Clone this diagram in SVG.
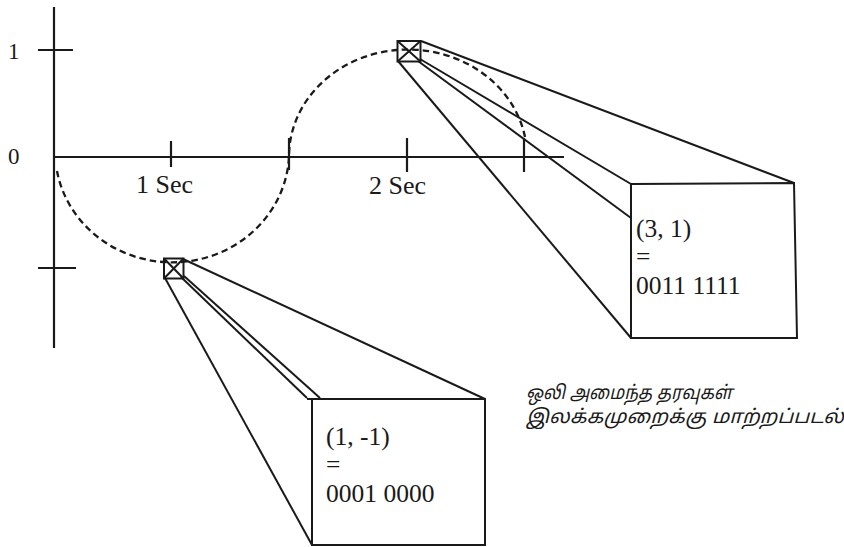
<svg xmlns="http://www.w3.org/2000/svg" width="844" height="547" viewBox="0 0 844 547">
  <style>
    .ln { stroke: #1a1a1a; stroke-width: 2; fill: none; stroke-linecap: butt; }
    .ax { stroke: #1a1a1a; stroke-width: 2.2; fill: none; }
    .wave { stroke: #1a1a1a; stroke-width: 2.3; fill: none; stroke-dasharray: 6.5 4; }
    .lbl { font-family: "Liberation Serif", "Times New Roman", serif; font-size: 26px; fill: #1a1a1a; }
    .val { font-family: "Liberation Serif", "Times New Roman", serif; font-size: 25.5px; fill: #1a1a1a; }
    .num { font-family: "Liberation Serif", "Times New Roman", serif; font-size: 23px; fill: #1a1a1a; }
    .tam { font-family: "Noto Sans Tamil", "Noto Sans", "Latha", sans-serif; font-size: 19px; font-style: italic; fill: #1a1a1a; }
  </style>
  <rect width="844" height="547" fill="#ffffff"/>

  <!-- axes and ticks -->
  <g id="axes">
    <line class="ax" x1="54" y1="7" x2="54" y2="348"/>
    <line class="ax" x1="54" y1="157" x2="564" y2="157"/>
    <line class="ax" x1="38" y1="50" x2="73" y2="50"/>
    <line class="ax" x1="38" y1="268" x2="76" y2="268"/>
    <line class="ax" x1="171" y1="141" x2="171" y2="167"/>
    <line class="ax" x1="289" y1="138" x2="289" y2="170"/>
    <line class="ax" x1="407" y1="138" x2="407" y2="172"/>
    <line class="ax" x1="524" y1="138" x2="524" y2="172"/>
    <text class="num" x="8" y="59">1</text>
    <text class="num" x="8" y="164">0</text>
    <text class="lbl" x="136" y="193">1 Sec</text>
    <text class="lbl" x="369" y="194">2 Sec</text>
  </g>

  <!-- sampled wave -->
  <g id="wave">
    <path class="wave" d="M 57 171 A 117 111 0 0 0 289 157 A 119 107 0 0 1 525 137"/>
  </g>

  <!-- projection lines from samples to their value boxes -->
  <g id="connectors">
    <line class="ln" x1="421" y1="41" x2="794" y2="183"/>
    <line class="ln" x1="420" y1="59" x2="631" y2="184"/>
    <line class="ln" x1="418" y1="61" x2="631" y2="218"/>
    <line class="ln" x1="398" y1="61" x2="631" y2="338"/>
    <line class="ln" x1="183" y1="259" x2="485" y2="399"/>
    <line class="ln" x1="181" y1="277" x2="307" y2="398"/>
    <line class="ln" x1="184" y1="276" x2="320" y2="398"/>
    <line class="ln" x1="165" y1="278" x2="312" y2="545"/>
  </g>

  <!-- sample at (3, 1) -->
  <g id="sample-top">
    <rect class="ln" x="397.5" y="41" width="23" height="20.5"/>
    <line class="ln" x1="397.5" y1="41" x2="420.5" y2="61.5"/>
    <line class="ln" x1="420.5" y1="41" x2="397.5" y2="61.5"/>
  </g>

  <!-- sample at (1, -1) -->
  <g id="sample-bottom">
    <rect class="ln" x="164" y="258.5" width="19.5" height="20"/>
    <line class="ln" x1="164" y1="258.5" x2="183.5" y2="278.5"/>
    <line class="ln" x1="183.5" y1="258.5" x2="164" y2="278.5"/>
  </g>

  <!-- value box for (3, 1) -->
  <g id="box-top">
    <polygon class="ln" points="631,184 794,183 797,338 631,338"/>
    <text class="val"><tspan x="636" y="236.5">(3, 1)</tspan><tspan x="636" y="265">=</tspan><tspan x="636" y="293.5">0011 1111</tspan></text>
  </g>

  <!-- value box for (1, -1) -->
  <g id="box-bottom">
    <polyline class="ln" points="307,399 485,399 485,545 312,545 312,399"/>
    <text class="val"><tspan x="326" y="444.5">(1, -1)</tspan><tspan x="326" y="473">=</tspan><tspan x="326" y="501.5">0001 0000</tspan></text>
  </g>

  <!-- caption -->
  <g id="caption">
    <text class="tam" transform="translate(526 399) scale(0.914 1)">ஒலி அமைந்த தரவுகள்</text>
    <text class="tam" transform="translate(526 423) scale(1.075 1)">இலக்கமுறைக்கு மாற்றப்படல்</text>
  </g>
</svg>
